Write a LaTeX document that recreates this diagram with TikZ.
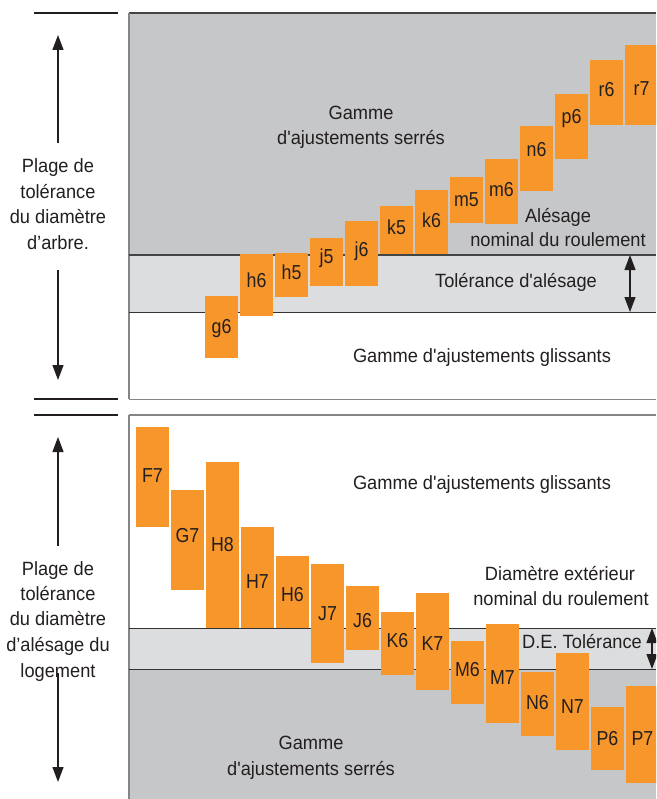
\documentclass[tikz,border=0pt]{standalone}
\usepackage{fontspec}
\setmainfont{Liberation Sans}[Ligatures=TeXOff]
\newfontfamily\txtfont{Liberation Sans}[Ligatures=TeXOff,FakeStretch=0.95]
\newfontfamily\labfont{Liberation Sans}[Ligatures=TeXOff,FakeStretch=0.88]
\usetikzlibrary{arrows.meta}
\definecolor{dgray}{HTML}{C6C7C9}
\definecolor{lgray}{HTML}{DCDDDF}
\definecolor{orng}{HTML}{F7962A}
\definecolor{ink}{HTML}{231F20}
\definecolor{edgeA}{HTML}{444444}
\definecolor{edgeB}{HTML}{858585}
\definecolor{edgeC}{HTML}{333333}
\tikzset{
  txt/.style={font=\txtfont\fontsize{19.2}{22}\selectfont, text=ink, inner sep=0pt, anchor=base},
  lab/.style={font=\labfont\fontsize{20.2}{22}\selectfont, text=ink, inner sep=0pt, anchor=base},
  obox/.style={fill=orng, draw=none, inner sep=0pt, minimum width=33pt, anchor=north west},
  arr/.style={draw=ink, line width=1.2pt, -{Triangle[length=15pt,width=11pt]}},
  darr/.style={draw=ink, line width=1.2pt, {Triangle[length=15pt,width=11pt]}-{Triangle[length=15pt,width=11pt]}},
  bar/.style={draw=ink, line width=2.7pt},
}
% name, x1, y1, y2, label baseline, text
\newcommand{\obx}[6]{%
  \node[obox, minimum height={(#4-#3)*1pt}] (#1) at (#2,#3) {};
  \node[lab] (#1t) at (#2+16.5,#5) {#6};}
\begin{document}
\begin{tikzpicture}[x=1pt,y=-1pt]
\useasboundingbox (0,0) rectangle (656,799);
\clip (0,0) rectangle (656,799);
\fill[white] (0,0) rectangle (656,799);

% ---------- top panel ----------
\fill[dgray] (129,13) rectangle (656,255);
\fill[lgray] (129,255) rectangle (656,312);
\draw[edgeA, line width=1.5pt] (129,13) -- (656,13);
\draw[edgeB, line width=1.5pt] (129,13) -- (129,399);
\draw[edgeA, line width=1.3pt] (129,255) -- (656,255);
\draw[edgeC, line width=1pt] (129,312) -- (656,312);
\draw[edgeB, line width=1pt] (129,399) -- (656,399);

% ---------- bottom panel ----------
\fill[lgray] (129,628) rectangle (656,669);
\fill[dgray] (129,669) rectangle (656,799);
\draw[edgeB, line width=1.2pt] (129,415) -- (656,415);
\draw[edgeB, line width=1.5pt] (129,415) -- (129,799);
\draw[edgeC, line width=1pt] (129,628) -- (656,628);
\draw[edgeC, line width=1pt] (129,669) -- (656,669);

% ---------- left bars ----------
\draw[bar] (34,13) -- (118,13);
\draw[bar] (34,399) -- (118,399);
\draw[bar] (34,415) -- (118,415);

% ---------- top boxes ----------
\obx{g6}{205}{296}{358}{333}{g6}
\obx{h6}{240}{254}{316}{287}{h6}
\obx{h5}{275}{253}{297}{279}{h5}
\obx{j5}{310}{238}{286}{263}{j5}
\obx{j6}{345}{221}{286}{257}{j6}
\obx{k5}{380}{206}{254}{235}{k5}
\obx{k6}{415}{190}{254}{228}{k6}
\obx{m5}{450}{177}{223}{207}{m5}
\obx{m6}{485}{159}{224}{197}{m6}
\obx{n6}{520}{126}{191}{157}{n6}
\obx{p6}{555}{94}{159}{124}{p6}
\obx{r6}{590}{60}{125}{97}{r6}
\obx{r7}{625}{45}{125}{96}{r7}

% ---------- bottom boxes ----------
\obx{F7}{136}{427}{527}{482}{F7}
\obx{G7}{171}{490}{590}{542}{G7}
\obx{H8}{206}{462}{628}{551}{H8}
\obx{H7}{241}{527}{628}{588}{H7}
\obx{H6}{276}{556}{628}{601}{H6}
\obx{J7}{311}{564}{663}{620}{J7}
\obx{J6}{346}{586}{650}{627}{J6}
\obx{K6}{381}{612}{675}{647}{K6}
\obx{K7}{416}{593}{690}{650}{K7}
\obx{M6}{451}{641}{704}{676}{M6}
\obx{M7}{486}{624}{723}{684}{M7}
\obx{N6}{521}{672}{736}{709}{N6}
\obx{N7}{556}{653}{750}{713}{N7}
\obx{P6}{591}{707}{770}{745}{P6}
\obx{P7}{626}{686}{783}{745}{P7}

% ---------- top texts ----------
\node[txt] (ts1) at (361,120) {Gamme};
\node[txt] (ts2) at (361,145) {d'ajustements serrés};
\node[txt] (ta1) at (558,222.7) {Alésage};
\node[txt] (ta2) at (558,246.7) {nominal du roulement};
\node[txt] (tt) at (516,287) {Tolérance d'alésage};
\node[txt] (tg) at (482,362.7) {Gamme d'ajustements glissants};
\node[txt] (la1) at (58,172.7) {Plage de};
\node[txt] (la2) at (58,198.7) {tolérance};
\node[txt] (la3) at (58,224) {du diamètre};
\node[txt] (la4) at (58,249.3) {d’arbre.};

% ---------- bottom texts ----------
\node[txt] (bg) at (482,489) {Gamme d'ajustements glissants};
\node[txt] (bd1) at (560,580) {Diamètre extérieur};
\node[txt] (bd2) at (561,605) {nominal du roulement};
\node[txt] (bt) at (582,648) {D.E. Tolérance};
\node[txt] (bs1) at (311,749) {Gamme};
\node[txt] (bs2) at (311,775) {d'ajustements serrés};
\node[txt] (lb1) at (58,575) {Plage de};
\node[txt] (lb2) at (58,600) {tolérance};
\node[txt] (lb3) at (58,625.5) {du diamètre};
\node[txt] (lb4) at (58,651) {d’alésage du};
\node[txt] (lb5) at (58,677) {logement};

% ---------- arrows ----------
\coordinate (ua0) at (58,143); \coordinate (ua1) at (58,35);
\coordinate (da0) at (58,270); \coordinate (da1) at (58,380);
\coordinate (ub0) at (58,546); \coordinate (ub1) at (58,437);
\coordinate (db0) at (58,673); \coordinate (db1) at (58,782);
\coordinate (tA) at (630,255); \coordinate (tB) at (630,312);
\coordinate (bA) at (652,628); \coordinate (bB) at (652,669);
\draw[arr] (ua0) -- (ua1);
\draw[arr] (da0) -- (da1);
\draw[arr] (ub0) -- (ub1);
\draw[arr] (db0) -- (db1);
\draw[darr] (tA) -- (tB);
\draw[darr] (bA) -- (bB);
\end{tikzpicture}
\end{document}
